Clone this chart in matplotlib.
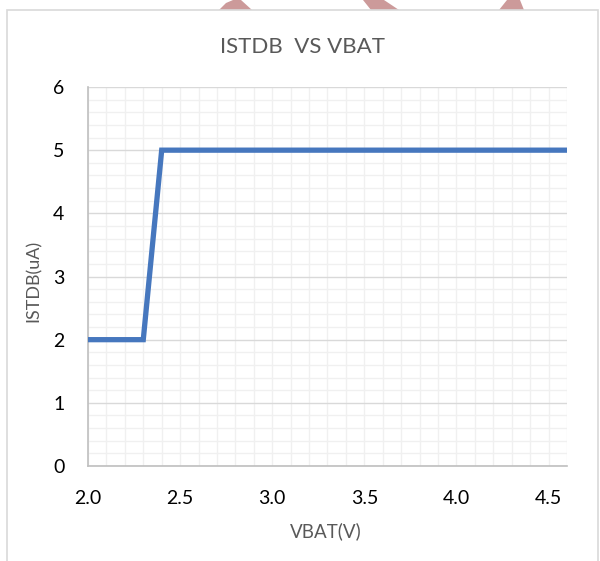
import numpy as np
import matplotlib
matplotlib.use('Agg')
import matplotlib.pyplot as plt
from matplotlib.patches import Rectangle, Polygon
from matplotlib.ticker import MultipleLocator

# data
vbat = [2.0, 2.3, 2.4, 4.6]
istdb = [2, 2, 5, 5]
x_ticks = [2.0, 2.5, 3.0, 3.5, 4.0, 4.5]
y_ticks = [0, 1, 2, 3, 4, 5, 6]

plt.rcParams['font.family'] = ['Lato', 'DejaVu Sans']

fig = plt.figure(figsize=(6, 5.61), dpi=100)
W, H = 600, 561

# pink watermark pieces peeking above the chart frame
wm = '#cc9a9a'
for pts in ([(226, 3), (233, 0), (241, 0), (252, 10), (219, 10)],
            [(363, 0), (384, 0), (399, 10), (371, 10)],
            [(507, 0), (520, 0), (524, 10), (499, 10)]):
    fig.add_artist(Polygon([(x / W, 1 - y / H) for x, y in pts],
                           closed=True, fc=wm, ec='none',
                           transform=fig.transFigure, zorder=0))

# chart frame
fig.add_artist(Rectangle((7 / W, -0.05), (598 - 7) / W, 1.05 - 10 / H,
                         transform=fig.transFigure, fc='white',
                         ec='#d9d9d9', lw=1.2, zorder=1))

ax = fig.add_axes([88 / W, 1 - 466 / H, (567 - 88) / W, (466 - 87) / H])
ax.set_zorder(2)
ax.patch.set_alpha(0)

ax.plot(vbat, istdb, color='#4677be', lw=3.8, solid_joinstyle='miter',
        zorder=3)

ax.set_xlim(2.0, 4.6)
ax.set_ylim(0, 6)
ax.set_xticks(x_ticks)
ax.set_xticklabels(['%.1f' % v for v in x_ticks])
ax.set_yticks(y_ticks)
ax.xaxis.set_minor_locator(MultipleLocator(0.1))
ax.yaxis.set_minor_locator(MultipleLocator(0.2))

# only the horizontal major lines are darker
ax.grid(which='minor', color='#f0f0f0', lw=1.0, zorder=0)
ax.xaxis.grid(which='major', color='#f0f0f0', lw=1.0, zorder=0)
ax.yaxis.grid(which='major', color='#d9d9d9', lw=1.0, zorder=0)
ax.set_axisbelow(True)

for s in ['top', 'right']:
    ax.spines[s].set_visible(False)
for s in ['left', 'bottom']:
    ax.spines[s].set_color('#bfbfbf')
    ax.spines[s].set_linewidth(1.2)

ax.tick_params(which='both', length=0, labelsize=14, colors='black')
ax.tick_params(axis='x', pad=17)
ax.tick_params(axis='y', pad=17)

fig.text(302 / W, 1 - 47 / H, 'ISTDB  VS VBAT', ha='center', va='center',
         fontsize=16, color='#595959')
fig.text(326 / W, 1 - 531 / H, 'VBAT(V)', ha='center', va='center',
         fontsize=13.5, color='#595959')
fig.text(34 / W, 1 - 281 / H, 'ISTDB(uA)', ha='center', va='center',
         rotation=90, fontsize=13, color='#595959')

fig.savefig('out.png', dpi=100)
